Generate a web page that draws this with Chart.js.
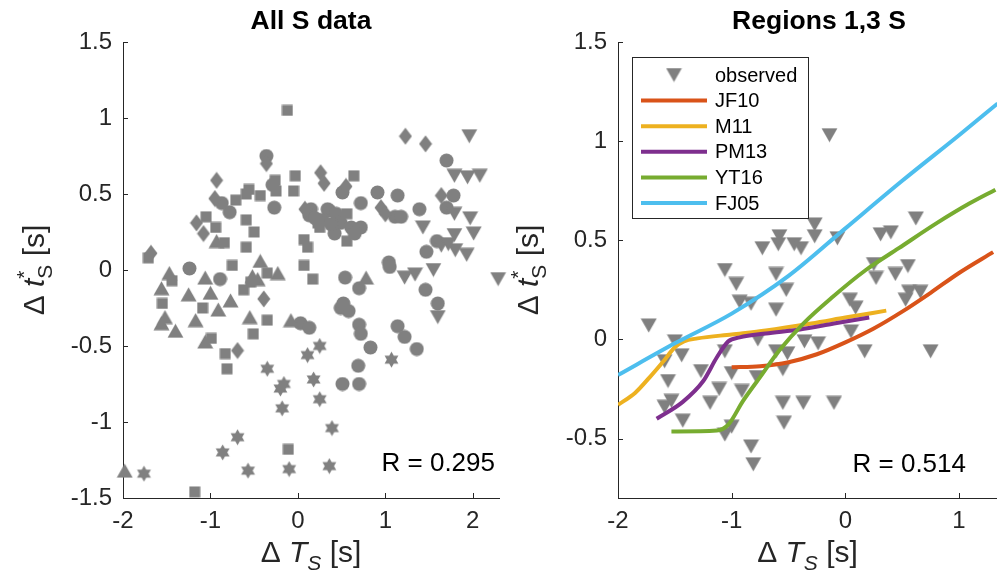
<!DOCTYPE html>
<html lang="en">
<head>
<meta charset="UTF-8">
<title>Delta t* vs Delta T, S waves</title>
<script src="https://cdn.jsdelivr.net/npm/chart.js"></script>
<style>
  body { margin: 0; background: #fff; }
  #wrap { position: relative; width: 997px; height: 588px; overflow: hidden; }
  #wrap canvas { position: absolute; top: 0; }
</style>
</head>
<body>
<div id="wrap">
  <canvas id="leftChart" width="510" height="588" style="left:0;width:510px;height:588px"></canvas>
  <canvas id="rightChart" width="492" height="588" style="left:505px;width:492px;height:588px"></canvas>
</div>
<script>
// ---- left panel: all S data, one list per marker group, [dT, dt*] ----
const circles = [[1.70,0.72],[-0.36,0.75],[-0.29,0.56],[-0.27,0.41],[-0.87,0.44],[-0.78,0.38],[0.51,0.51],
  [0.91,0.51],[1.14,0.49],[0.72,0.44],[1.39,0.40],[1.78,0.49],[1.70,0.41],[0.15,0.40],[0.34,0.40],[0.36,0.39],
  [0.44,0.37],[0.13,0.36],[0.49,0.31],[0.61,0.28],[0.72,0.28],[0.42,0.24],[0.65,0.24],[1.11,0.35],[1.18,0.35],
  [0.28,0.33],[0.38,0.30],[0.20,0.34],[1.59,0.19],[1.47,0.12],[1.04,0.05],[1.05,0.02],[-1.24,0.01],[-0.89,-0.06],
  [0.54,-0.05],[0.70,-0.12],[0.49,-0.25],[0.58,-0.27],[0.70,-0.36],[0.72,-0.42],[0.83,-0.51],[0.69,-0.63],
  [0.51,-0.75],[0.70,-0.75],[1.14,-0.37],[1.22,-0.44],[1.36,-0.52],[1.46,-0.13],[1.60,-0.22],[0.03,-0.35],
  [0.13,-0.38],[0.52,-0.22]];
const squares = [[-0.12,1.05],[-0.03,0.62],[0.64,0.62],[-0.26,0.59],[-0.56,0.53],[-0.05,0.52],[-0.25,0.52],
  [-0.59,0.50],[-0.43,0.49],[-0.71,0.46],[-1.05,0.35],[-0.59,0.33],[-0.94,0.28],[-0.50,0.25],[-0.84,0.18],
  [-0.59,0.15],[0.07,0.20],[0.11,0.15],[0.56,0.37],[0.56,0.19],[0.25,0.28],[0.23,0.31],[-0.75,0.03],[0.07,0.03],
  [-1.71,0.08],[-1.44,-0.07],[-1.55,-0.22],[-1.09,-0.25],[-0.35,-0.02],[-0.62,-0.13],[-0.54,-0.08],[-0.35,-0.33],
  [-0.51,-0.42],[-0.99,-0.45],[-0.83,-0.55],[-0.81,-0.65],[0.17,-0.06],[-0.11,-1.18],[-1.18,-1.46]];
const diamonds = [[1.23,0.88],[1.46,0.83],[-0.93,0.59],[0.26,0.64],[0.30,0.57],[0.55,0.55],[-0.95,0.47],
  [-1.16,0.31],[-1.08,0.24],[-1.68,0.11],[0.95,0.41],[1.00,0.37],[1.64,0.49],[0.08,0.40],[-0.39,-0.19],
  [-0.69,-0.53],[-0.36,0.70]];
const trianglesUp = [[-1.47,-0.02],[-1.56,-0.12],[-1.25,-0.16],[-1.06,-0.05],[-1.00,-0.15],[-0.77,-0.20],
  [-0.91,-0.26],[-1.17,-0.33],[-1.52,-0.31],[-1.56,-0.35],[-1.40,-0.40],[-1.06,-0.47],[-0.55,-0.31],[-0.46,-0.06],
  [-0.43,0.06],[-0.23,-0.02],[-0.08,-0.33],[0.78,-0.05],[-1.98,-1.32],[-0.93,0.19],[-0.52,-0.04]];
const trianglesDown = [[1.96,0.88],[1.79,0.62],[1.94,0.61],[2.08,0.62],[1.79,0.37],[1.97,0.34],[1.43,0.28],
  [2.01,0.24],[1.79,0.23],[1.64,0.16],[1.80,0.13],[1.93,0.10],[1.55,0.00],[1.34,-0.03],[1.22,-0.05],[2.29,-0.06],
  [1.60,-0.31],[1.72,0.17]];
const hexagrams = [[0.25,-0.50],[0.11,-0.56],[-0.35,-0.65],[-0.16,-0.75],[-0.20,-0.78],[0.18,-0.72],[0.25,-0.85],
  [-0.18,-0.91],[1.07,-0.59],[0.39,-1.04],[-0.69,-1.10],[-0.86,-1.20],[-1.76,-1.34],[-0.57,-1.32],[-0.10,-1.31],
  [0.36,-1.29]];

// ---- right panel: regions 1,3 ----
const observed = [[-0.14,1.03],[-0.27,0.58],[0.62,0.61],[-0.58,0.52],[-0.27,0.52],[-0.07,0.51],[-0.73,0.46],
  [-0.59,0.48],[-0.45,0.48],[-0.39,0.46],[0.31,0.53],[0.40,0.54],[-1.06,0.35],[-0.96,0.28],[-0.61,0.33],
  [-0.52,0.25],[0.25,0.38],[0.27,0.31],[0.55,0.37],[0.44,0.33],[0.56,0.24],[0.66,0.24],[0.53,0.20],[-0.93,0.19],
  [-0.83,0.18],[-0.61,0.15],[0.04,0.20],[0.09,0.16],[-1.73,0.07],[0.05,0.04],[-1.50,-0.01],[-1.44,-0.08],
  [-1.06,-0.06],[-1.59,-0.11],[-0.36,-0.01],[-0.24,-0.02],[-0.51,-0.07],[-0.61,-0.06],[0.17,-0.06],[0.75,-0.06],
  [-1.27,-0.16],[-1.00,-0.17],[-0.78,-0.19],[-0.55,-0.15],[-1.56,-0.21],[-1.11,-0.25],[-0.91,-0.26],[-1.53,-0.31],
  [-1.19,-0.32],[-0.55,-0.32],[-0.37,-0.32],[-0.10,-0.32],[-1.59,-0.34],[-1.43,-0.41],[-0.54,-0.42],[-1.06,-0.48],
  [-1.00,-0.44],[-0.83,-0.54],[-0.81,-0.63],[-0.77,0.00]];

const jf10X = [-1.0,-0.75,-0.5,-0.25,0,0.25,0.5,0.75,1.0,1.3];
const jf10Y = [-0.14,-0.135,-0.115,-0.075,-0.015,0.055,0.14,0.235,0.335,0.44];
const m11X = [-2,-1.85,-1.72,-1.6,-1.5,-1.42,-1.3,-1.0,-0.7,-0.3,0,0.36];
const m11Y = [-0.33,-0.27,-0.19,-0.11,-0.04,-0.01,0.005,0.025,0.045,0.08,0.11,0.145];
const pm13X = [-1.66,-1.43,-1.25,-1.13,-1.03,-0.93,-0.7,-0.4,-0.1,0.21];
const pm13Y = [-0.40,-0.315,-0.21,-0.09,-0.01,0.01,0.03,0.05,0.08,0.11];
const yt16X = [-1.53,-1.13,-1.03,-0.9,-0.75,-0.58,-0.37,-0.11,0.18,0.47,0.8,1.09,1.32];
const yt16Y = [-0.465,-0.46,-0.43,-0.31,-0.19,-0.055,0.08,0.215,0.35,0.46,0.585,0.685,0.755];
const fj05X = [-2,-1.5,-1,-0.5,0,0.5,1,1.34];
const fj05Y = [-0.18,-0.02,0.13,0.32,0.56,0.80,1.03,1.19];

const modelNames = ['JF10', 'M11', 'PM13', 'YT16', 'FJ05'];
const modelColors = ['#D95319', '#EDB120', '#7E2F8E', '#77AC30', '#4DBEEE'];
const modelXs = [jf10X, m11X, pm13X, yt16X, fj05X];
const modelYs = [jf10Y, m11Y, pm13Y, yt16Y, fj05Y];

const leftXTicks = [-2, -1, 0, 1, 2];
const leftYTicks = [-1.5, -1, -0.5, 0, 0.5, 1, 1.5];
const rightXTicks = [-2, -1, 0, 1];
const rightYTicks = [-0.5, 0, 0.5, 1, 1.5];

const GRAY = '#808080';
const AXIS = '#262626';
const FONT = '"Liberation Sans", Arial, Helvetica, sans-serif';

function font(size, italic, bold) {
  return (italic ? 'italic ' : '') + (bold ? 'bold ' : '') + size + 'px ' + FONT;
}

// marker glyphs drawn once into small canvases
function makeMarker(kind) {
  const sizes = { circle: [15, 15], square: [12, 12], diamond: [14, 18], up: [17, 15], down: [17, 15], hexagram: [17, 17] };
  const [w, h] = sizes[kind];
  const c = document.createElement('canvas');
  c.width = w; c.height = h;
  const g = c.getContext('2d');
  g.fillStyle = GRAY;
  g.beginPath();
  if (kind === 'circle') {
    g.arc(w / 2, h / 2, w / 2 - 0.5, 0, Math.PI * 2);
  } else if (kind === 'square') {
    g.rect(0.5, 0.5, w - 1, h - 1);
  } else if (kind === 'diamond') {
    g.moveTo(w / 2, 0.5); g.lineTo(w - 0.5, h / 2); g.lineTo(w / 2, h - 0.5); g.lineTo(0.5, h / 2);
  } else if (kind === 'up') {
    g.moveTo(w / 2, 0.5); g.lineTo(w - 0.5, h - 0.5); g.lineTo(0.5, h - 0.5);
  } else if (kind === 'down') {
    g.moveTo(0.5, 0.5); g.lineTo(w - 0.5, 0.5); g.lineTo(w / 2, h - 0.5);
  } else {
    const ro = w / 2 - 0.5, ri = ro / Math.sqrt(3);
    for (let k = 0; k < 12; k++) {
      const ang = -Math.PI / 2 + k * Math.PI / 6;
      const r = k % 2 ? ri : ro;
      g.lineTo(w / 2 + r * Math.cos(ang), h / 2 + r * Math.sin(ang));
    }
  }
  g.closePath();
  g.fill();
  return c;
}
const markers = {};
['circle', 'square', 'diamond', 'up', 'down', 'hexagram'].forEach(k => markers[k] = makeMarker(k));

// text with sub/superscripts, e.g. axis titles
function drawRich(ctx, pieces, cx, cy, size, rotate) {
  const small = Math.round(size * 0.7);
  ctx.save();
  ctx.translate(cx, cy);
  if (rotate) ctx.rotate(-Math.PI / 2);
  ctx.fillStyle = AXIS;
  ctx.textAlign = 'left';
  ctx.textBaseline = 'alphabetic';
  const widths = pieces.map(p => {
    if (p.t !== undefined) { ctx.font = font(size, p.i); return ctx.measureText(p.t).width; }
    let w = 0;
    if (p.sup) { ctx.font = font(small, false); w = Math.max(w, ctx.measureText(p.sup).width); }
    if (p.sub) { ctx.font = font(small, p.i); w = Math.max(w, ctx.measureText(p.sub).width); }
    return w;
  });
  let x = -widths.reduce((s, w) => s + w, 0) / 2;
  const base = size * 0.36;
  pieces.forEach((p, k) => {
    if (p.t !== undefined) {
      ctx.font = font(size, p.i);
      ctx.fillText(p.t, x, base);
    } else {
      if (p.sup) { ctx.font = font(small, false); ctx.fillText(p.sup, x, base - size * 0.42); }
      if (p.sub) { ctx.font = font(small, p.i); ctx.fillText(p.sub, x, base + size * 0.27); }
    }
    x += widths[k];
  });
  ctx.restore();
}

const xLabelPieces = [{ t: '\u0394 ' }, { t: 'T', i: true }, { sub: 'S', i: true }, { t: ' [s]' }];
const yLabelPieces = [{ t: '\u0394 ' }, { t: 't', i: true }, { sup: '*', sub: 'S' }, { t: ' [s]' }];

const decorPlugin = {
  id: 'decor',
  afterDraw(chart, args, opts) {
    const ctx = chart.ctx, a = chart.chartArea;
    const xs = chart.scales.x, ys = chart.scales.y;
    ctx.save();
    // inward tick marks
    ctx.strokeStyle = AXIS;
    ctx.lineWidth = 1;
    ctx.beginPath();
    xs.ticks.forEach(t => {
      const px = Math.round(xs.getPixelForValue(t.value)) + 0.5;
      ctx.moveTo(px, a.bottom); ctx.lineTo(px, a.bottom - 5);
    });
    ys.ticks.forEach(t => {
      const py = Math.round(ys.getPixelForValue(t.value)) + 0.5;
      ctx.moveTo(a.left, py); ctx.lineTo(a.left + 5, py);
    });
    ctx.stroke();

    // panel title
    ctx.fillStyle = '#000';
    ctx.font = font(26.5, false, true);
    ctx.textAlign = 'center';
    ctx.textBaseline = 'middle';
    ctx.fillText(opts.title, opts.titleX !== undefined ? opts.titleX : (a.left + a.right) / 2, 22);

    // correlation text
    ctx.font = font(26);
    ctx.textAlign = 'right';
    ctx.fillText(opts.rText, opts.rX, opts.rY);

    // axis titles
    drawRich(ctx, xLabelPieces, (a.left + a.right) / 2, 551, 30, false);
    drawRich(ctx, yLabelPieces, opts.yLabelX, (a.top + a.bottom) / 2, 30, true);

    // legend box
    if (opts.legend) {
      const L = opts.legend;
      ctx.fillStyle = '#fff';
      ctx.fillRect(L.x, L.y, L.w, L.h);
      ctx.strokeStyle = AXIS;
      ctx.strokeRect(L.x + 0.5, L.y + 0.5, L.w, L.h);
      ctx.font = font(20);
      ctx.textAlign = 'left';
      ctx.textBaseline = 'middle';
      chart.data.datasets.forEach((ds, k) => {
        const ry = L.y + 18 + k * 25.6;
        if (ds.showLine) {
          ctx.strokeStyle = ds.borderColor;
          ctx.lineWidth = 4;
          ctx.beginPath();
          ctx.moveTo(L.x + 9, ry); ctx.lineTo(L.x + 75, ry);
          ctx.stroke();
        } else {
          const m = ds.pointStyle;
          ctx.drawImage(m, L.x + 42 - m.width / 2, ry - m.height / 2);
        }
        ctx.fillStyle = '#000';
        ctx.fillText(ds.label, L.x + 83, ry + 1);
      });
    }
    ctx.restore();
  }
};

function axisOptions(min, max, ticks, isX, fitValue, pad) {
  return {
    type: 'linear',
    min: min,
    max: max,
    grid: { display: false, drawTicks: false },
    border: { display: true, color: AXIS, width: 1 },
    ticks: {
      color: AXIS,
      font: { family: FONT, size: 24 },
      padding: pad,
      maxRotation: 0,
      callback: v => String(v)
    },
    afterBuildTicks: s => { s.ticks = ticks.map(v => ({ value: v })); },
    afterFit: s => {
      if (isX) { s.height = fitValue; s.paddingLeft = 0; s.paddingRight = 0; }
      else { s.width = fitValue; s.paddingTop = 0; s.paddingBottom = 0; }
    }
  };
}

function panelOptions(cfg) {
  return {
    responsive: false,
    animation: false,
    events: [],
    layout: { autoPadding: false, padding: { left: 0, right: cfg.padRight, top: 42, bottom: 0 } },
    plugins: { legend: { display: false }, tooltip: { enabled: false }, decor: cfg.decor },
    scales: {
      x: axisOptions(cfg.xMin, cfg.xMax, cfg.xTicks, true, 90, 9),
      y: axisOptions(cfg.yMin, cfg.yMax, cfg.yTicks, false, cfg.yWidth, 11)
    }
  };
}

function markerSet(points, style, label) {
  return {
    label: label,
    data: points.map(([x, y]) => ({ x, y })),
    pointStyle: markers[style],
    pointRadius: 7,
    showLine: false,
    clip: false
  };
}

// left chart
new Chart(document.getElementById('leftChart'), {
  type: 'scatter',
  data: {
    datasets: [
      markerSet(squares, 'square', 'squares'),
      markerSet(diamonds, 'diamond', 'diamonds'),
      markerSet(trianglesUp, 'up', 'triangles up'),
      markerSet(trianglesDown, 'down', 'triangles down'),
      markerSet(hexagrams, 'hexagram', 'hexagrams'),
      markerSet(circles, 'circle', 'circles')
    ]
  },
  options: panelOptions({
    padRight: 11, yWidth: 123,
    xMin: -2, xMax: 2.3, xTicks: leftXTicks,
    yMin: -1.5, yMax: 1.5, yTicks: leftYTicks,
    decor: { title: 'All S data', rText: 'R = 0.295', rX: 495, rY: 464, yLabelX: 33 }
  }),
  plugins: [decorPlugin]
});

// right chart
const rightSets = [Object.assign(markerSet(observed, 'down', 'observed'), { order: 10 })];
modelNames.forEach((name, k) => {
  rightSets.push({
    label: name,
    data: modelXs[k].map((x, i) => ({ x: x, y: modelYs[k][i] })),
    showLine: true,
    borderColor: modelColors[k],
    borderWidth: 4,
    pointRadius: 0,
    cubicInterpolationMode: 'monotone',
    fill: false,
    order: 5 - k
  });
});

new Chart(document.getElementById('rightChart'), {
  type: 'scatter',
  data: { datasets: rightSets },
  options: panelOptions({
    padRight: 0, yWidth: 113,
    xMin: -2, xMax: 1.334, xTicks: rightXTicks,
    yMin: -0.8, yMax: 1.5, yTicks: rightYTicks,
    decor: {
      title: 'Regions 1,3 S', titleX: 314, rText: 'R = 0.514', rX: 461, rY: 465, yLabelX: 22,
      legend: { x: 127, y: 57, w: 176, h: 161 }
    }
  }),
  plugins: [decorPlugin]
});
</script>
</body>
</html>
